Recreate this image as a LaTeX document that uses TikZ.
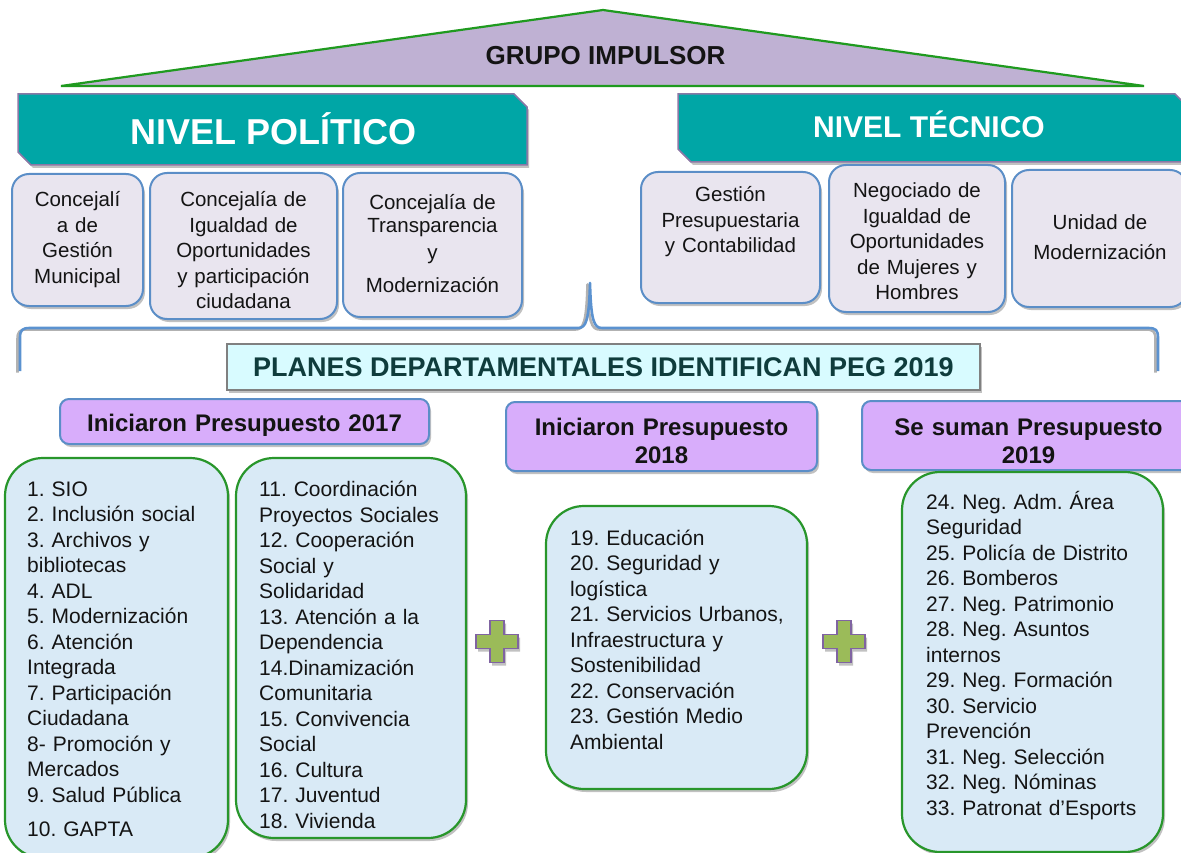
\documentclass[tikz,border=0pt]{standalone}
\usepackage{fontspec}
\setmainfont{Liberation Sans}
\usetikzlibrary{shadows}
\definecolor{tealban}{HTML}{00A6A6}
\definecolor{banborder}{HTML}{8A78A6}
\definecolor{trifill}{HTML}{BFB1D3}
\definecolor{trigreen}{HTML}{1F9A1F}
\definecolor{polfill}{HTML}{E9E5EF}
\definecolor{boxblue}{HTML}{5B8EC7}
\definecolor{cyanfill}{HTML}{D8FBFF}
\definecolor{darkteal}{HTML}{0F3C3C}
\definecolor{hdrfill}{HTML}{D8ADFB}
\definecolor{listfill}{HTML}{D9EAF6}
\definecolor{listgreen}{HTML}{28962B}
\definecolor{plusgreen}{HTML}{9BBB59}
\definecolor{pluspurple}{HTML}{8064A2}
\definecolor{bracecol}{HTML}{5B92D0}
\definecolor{txt}{HTML}{141414}
\begin{document}
\begin{tikzpicture}[x=1pt,y=-1pt,
  shad/.style={drop shadow={shadow xshift=2pt,shadow yshift=-3pt,opacity=0.35,fill=black!70}},
  polbox/.style={shad, draw=boxblue, line width=2pt, fill=polfill, rounded corners=17pt, inner sep=0pt},
  listbox/.style={shad, draw=listgreen, line width=2.2pt, fill=listfill, rounded corners=38pt, inner sep=0pt},
  hdrbox/.style={shad, draw=boxblue, line width=2pt, fill=hdrfill, rounded corners=9pt, inner sep=0pt},
  banbox/.style={shad, draw=black!50, line width=1.5pt, fill=cyanfill, inner sep=0pt},
  ctext/.style={anchor=base, inner sep=0pt, align=center, text width=180, text=txt, font=\frenchspacing\fontsize{20.5}{25.5}\selectfont},
  ltext/.style={anchor=base west, inner sep=0pt, align=left, text=txt, font=\frenchspacing\fontsize{21}{25.5}\selectfont},
  htext/.style={anchor=base, inner sep=0pt, align=center, text width=320, text=txt, font=\bfseries\fontsize{24}{28}\selectfont},
  plusshape/.style={shad, fill=plusgreen, draw=pluspurple, line width=1.6pt},
  bracepath/.style={line width=2.6pt, line join=round}
]
\useasboundingbox (0,0) rectangle (1181,853);

% roof
\path[fill=trifill, draw=trigreen, line width=2.2pt] (61,86) -- (603,10) -- (1144,86) -- cycle;
\node[anchor=base, inner sep=0pt, font=\bfseries\fontsize{26}{30}\selectfont, text=txt] (grupo) at (605.5,65) {GRUPO IMPULSOR};

% level banners
\path[shad, fill=tealban, draw=banborder, line width=1.5pt]
  (18,94) -- (514,94) -- (527,107) -- (527,165) -- (31,165) -- (18,152) -- cycle;
\node[anchor=base, inner sep=0pt, font=\bfseries\fontsize{36}{40}\selectfont, text=white] (npol) at (273.5,145) {NIVEL POLÍTICO};
\path[shad, fill=tealban, draw=banborder, line width=1.5pt]
  (678,94) -- (1175,94) -- (1188,107) -- (1188,162) -- (691,162) -- (678,149) -- cycle;
\node[anchor=base, inner sep=0pt, font=\bfseries\fontsize{30}{34}\selectfont, text=white] (ntec) at (929,138) {NIVEL TÉCNICO};

% political boxes
\node[polbox, minimum width=131, minimum height=132] (p1) at (77.5,240) {};
\node[polbox, minimum width=187, minimum height=146] (p2) at (243.5,246) {};
\node[polbox, minimum width=179, minimum height=144] (p3) at (432.5,245) {};
\node[ctext, text width=125] (p1t) at (77.5,207) {Concejalí\\a de\\Gestión\\Municipal};
\node[ctext] (p2t) at (243.5,207) {Concejalía de\\Igualdad de\\Oportunidades\\y participación\\ciudadana};
\node[ctext] (p3t) at (432.5,210) {Concejalía de\\[-2.5pt]Transparencia\\[1.5pt]y\\[7.5pt]Modernización};

% technical boxes
\node[polbox, minimum width=179, minimum height=131] (t1) at (730.5,237.5) {};
\node[polbox, minimum width=176, minimum height=147] (t2) at (917,238.5) {};
\node[polbox, minimum width=175, minimum height=137] (t3) at (1099.5,238.5) {};
\node[ctext] (t1t) at (730.5,202) {Gestión\\Presupuestaria\\y Contabilidad};
\node[ctext] (t2t) at (917,198) {Negociado de\\Igualdad de\\Oportunidades\\de Mujeres y\\Hombres};
\node[ctext] (t3t) at (1100,230) {Unidad de\\[4.5pt]Modernización};

% brace (with soft shadow)
\begin{scope}[shift={(-2.5,1.5)}]
\draw[bracepath, black, opacity=0.3]
  (20,371) -- (20,338) .. controls (20,330) and (22,328) .. (30,328)
  -- (578,328) .. controls (586,328) and (589,321) .. (590,283)
  .. controls (591,321) and (594,328) .. (602,328)
  -- (1148,328) .. controls (1156,328) and (1158,330) .. (1158,338) -- (1158,371);
\end{scope}
\draw[bracepath, bracecol]
  (20,371) -- (20,338) .. controls (20,330) and (22,328) .. (30,328)
  -- (578,328) .. controls (586,328) and (589,321) .. (590,283)
  .. controls (591,321) and (594,328) .. (602,328)
  -- (1148,328) .. controls (1156,328) and (1158,330) .. (1158,338) -- (1158,371);

% planes banner
\node[banbox, minimum width=753, minimum height=46] (planes) at (603.5,367) {};
\node[anchor=base, inner sep=0pt, font=\bfseries\fontsize{27}{30}\selectfont, text=darkteal] (planest) at (603.5,376) {PLANES DEPARTAMENTALES IDENTIFICAN PEG 2019};

% headers
\node[hdrbox, minimum width=369, minimum height=45] (h1) at (244.5,421.5) {};
\node[hdrbox, minimum width=311, minimum height=69] (h2) at (661.5,436.5) {};
\node[hdrbox, minimum width=333, minimum height=69] (h3) at (1028.5,435.5) {};
\node[htext, text width=360] (h1t) at (244.5,431) {Iniciaron Presupuesto 2017};
\node[htext] (h2t) at (661.5,435) {Iniciaron Presupuesto\\2018};
\node[htext] (h3t) at (1028.5,435) {Se suman Presupuesto\\2019};

% list boxes
\node[listbox, minimum width=223, minimum height=400] (l1) at (116.5,658) {};
\node[listbox, minimum width=230, minimum height=380] (l2) at (351,648) {};
\node[listbox, minimum width=261, minimum height=283] (l3) at (676.5,647.5) {};
\node[listbox, minimum width=261, minimum height=380] (l4) at (1032.5,662) {};

\node[ltext, text width=200] (l1t) at (27,496) {1. SIO\\2. Inclusión social\\3. Archivos y\\bibliotecas\\4. ADL\\5. Modernización\\6. Atención\\Integrada\\7. Participación\\Ciudadana\\8- Promoción y\\Mercados\\9. Salud Pública\\[9.2pt]10. GAPTA};
\node[ltext, text width=205] (l2t) at (259,496.7) {11. Coordinación\\Proyectos Sociales\\12. Cooperación\\Social y\\Solidaridad\\13. Atención a la\\Dependencia\\14.Dinamización\\Comunitaria\\15. Convivencia\\Social\\16. Cultura\\17. Juventud\\18. Vivienda};
\node[ltext, text width=232] (l3t) at (570,545) {19. Educación\\20. Seguridad y\\logística\\21. Servicios Urbanos,\\Infraestructura y\\Sostenibilidad\\22. Conservación\\23. Gestión Medio\\Ambiental};
\node[ltext, text width=235] (l4t) at (926,509) {24. Neg. Adm. Área\\Seguridad\\25. Policía de Distrito\\26. Bomberos\\27. Neg. Patrimonio\\28. Neg. Asuntos\\internos\\29. Neg. Formación\\30. Servicio\\Prevención\\31. Neg. Selección\\32. Neg. Nóminas\\33. Patronat d’Esports};

% plus signs
\begin{scope}[shift={(497,641.5)}]
\path[plusshape] (-7,-21) -- (7,-21) -- (7,-7) -- (21,-7) -- (21,7) -- (7,7) -- (7,21) -- (-7,21) -- (-7,7) -- (-21,7) -- (-21,-7) -- (-7,-7) -- cycle;
\end{scope}
\begin{scope}[shift={(844,641.5)}]
\path[plusshape] (-7,-21) -- (7,-21) -- (7,-7) -- (21,-7) -- (21,7) -- (7,7) -- (7,21) -- (-7,21) -- (-7,7) -- (-21,7) -- (-21,-7) -- (-7,-7) -- cycle;
\end{scope}
\end{tikzpicture}
\end{document}
